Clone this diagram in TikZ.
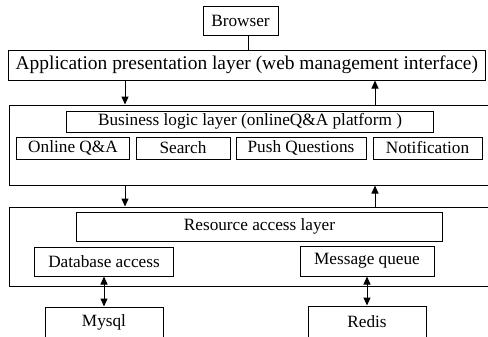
\documentclass[tikz,border=0pt]{standalone}
\usepackage{fontspec}
\setmainfont{Liberation Serif}
\usetikzlibrary{arrows.meta,positioning}

\tikzset{
  box/.style={draw, line width=1bp, inner sep=0pt, minimum height=#1},
  box/.default=29bp,
  layer/.style={draw, line width=1bp, inner sep=0pt},
  tip/.style={-{Triangle[width=7bp,length=8bp]}, line width=1bp},
  both/.style={{Triangle[width=7bp,length=8bp]}-{Triangle[width=7bp,length=8bp]}, line width=1bp}
}

\begin{document}
\begin{tikzpicture}[x=1bp,y=-1bp,font=\fontsize{17.3}{20}\selectfont]
\useasboundingbox (0,0) rectangle (488,336);

  % layers
  \node[layer, minimum width=480bp, minimum height=80bp] (biz) at (250,145) {};
  \node[layer, minimum width=480bp, minimum height=79bp] (res) at (250,246.5) {};

  \node[box=29bp, minimum width=75bp]   (browser) at (240.5,20.5)  {Browser};
  \node[box=30bp, minimum width=477bp, font=\fontsize{19.5}{22}\selectfont]
                                        (app)     at (246.8,65)    {Application presentation layer (web management interface)};

  \node[box=21bp, minimum width=366bp]  (logic)   at (250,121.5)   {Business logic layer (onlineQ\&A platform )};
  \node[box=22bp, minimum width=112bp]  (qa)      at (73,148)      {Online Q\&A};
  \node[box=22bp, minimum width=94bp]   (search)  at (183,148)     {Search};
  \node[box=22bp, minimum width=130bp]  (push)    at (301,148)     {Push Questions};
  \node[box=22bp, minimum width=109bp]  (notify)  at (427.5,148)   {Notification};

  \node[box=29bp, minimum width=365bp]  (access)  at (259.5,226.5) {Resource access layer};
  \node[box=29bp, minimum width=138bp]  (db)      at (104,261.5)   {Database access};
  \node[box=30bp, minimum width=134bp]  (mq)      at (367,261)     {Message queue};

  \node[box=31bp, minimum width=118bp]  (mysql)   at (104,322.5)   {Mysql};
  \node[box=31bp, minimum width=118bp]  (redis)   at (367,321.5)   {Redis};

  \coordinate (mid)  at (248,0);
  \coordinate (down) at (125,0);
  \coordinate (up)   at (375,0);

  \draw[line width=1bp] (browser.south -| mid) -- (app.north -| mid);
  \draw[tip] (app.south -| down) -- (biz.north -| down);
  \draw[tip] (biz.north -| up) -- (app.south -| up);
  \draw[tip] (biz.south -| down) -- (res.north -| down);
  \draw[tip] (res.north -| up) -- (biz.south -| up);
  \draw[both] (db.south) -- (mysql.north);
  \draw[both] (mq.south) -- (redis.north);
\end{tikzpicture}
\end{document}
